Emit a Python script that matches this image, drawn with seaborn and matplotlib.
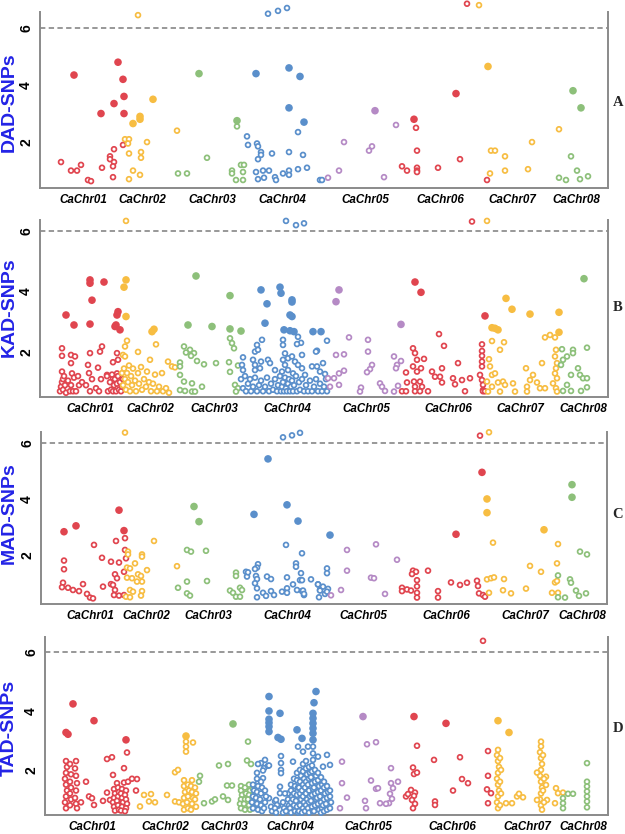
import numpy as np
import pandas as pd
import seaborn as sns
import matplotlib.pyplot as plt

sns.set_theme(style="white")
plt.rcParams['font.family'] = ['Liberation Sans', 'DejaVu Sans']

CHROMS = ["CaChr01", "CaChr02", "CaChr03", "CaChr04",
          "CaChr05", "CaChr06", "CaChr07", "CaChr08"]
CHR_COLORS = ["#E0454F", "#F7BD42", "#8DC07A", "#5A8FCB",
              "#B58AC5", "#E0454F", "#F7BD42", "#8DC07A"]
THRESHOLD = 6

# ---------------- DAD-SNPs (panel A) ----------------
DAD_pos = {
    "CaChr01": [74, 61, 71, 77, 81, 88, 91, 101, 102, 110, 110, 114, 113, 113, 114, 118, 114, 123, 124, 124, 123],
    "CaChr02": [138, 153, 140, 140, 133, 125, 129, 128, 147, 129, 141, 141, 133, 140, 129, 177],
    "CaChr03": [199, 178, 187, 207, 237, 237, 241, 244, 232, 232, 243, 236, 243],
    "CaChr04": [268, 278, 287, 256, 289, 300, 289, 304, 298, 247, 248, 257, 258, 261, 261, 272, 258, 289, 303,
                256, 263, 269, 275, 276, 283, 289, 289, 298, 307, 258, 264, 320, 322],
    "CaChr05": [328, 339, 344, 375, 372, 369, 396, 384],
    "CaChr06": [414, 416, 417, 402, 407, 417, 417, 417, 438, 460, 456, 467, 487],
    "CaChr07": [479, 488, 491, 495, 505, 490, 505, 528, 532, 559],
    "CaChr08": [573, 581, 571, 559, 566, 577, 580, 588],
}
DAD_val = {
    "CaChr01": [4.35, 1.3, 1.0, 1.0, 1.2, 0.67, 0.63, 3.0, 1.1, 1.5, 1.4, 1.3, 1.15, 0.77, 1.75, 4.8, 3.35, 4.2, 3.6, 3.0, 1.9],
    "CaChr02": [6.45, 3.5, 2.9, 2.8, 2.65, 2.1, 2.1, 1.95, 2.0, 1.6, 1.65, 1.45, 1.0, 0.85, 0.7, 2.4],
    "CaChr03": [4.4, 0.9, 0.9, 1.45, 2.75, 2.55, 1.2, 1.2, 1.0, 0.9, 0.95, 0.67, 0.67],
    "CaChr04": [6.5, 6.6, 6.7, 4.4, 4.6, 4.3, 3.2, 2.7, 2.35, 2.2, 1.9, 1.95, 1.85, 1.65, 1.55, 1.6, 1.4, 1.65, 1.55,
                0.95, 1.0, 1.0, 0.77, 0.67, 0.9, 1.0, 0.85, 1.05, 1.1, 0.7, 0.75, 0.67, 0.67],
    "CaChr05": [0.75, 1.0, 2.0, 3.1, 1.85, 1.7, 2.6, 0.77],
    "CaChr06": [2.8, 2.5, 1.7, 1.15, 1.0, 1.1, 1.0, 0.95, 1.1, 1.4, 3.7, 6.85, 0.67],
    "CaChr07": [6.8, 4.65, 1.7, 1.7, 1.5, 0.9, 1.0, 1.05, 2.0, 2.45],
    "CaChr08": [3.8, 3.2, 1.5, 0.75, 0.67, 1.0, 0.7, 0.8],
}
DAD_label_pos = [83, 142, 212, 282, 365, 440, 512, 576]

# ---------------- KAD-SNPs (panel B) ----------------
KAD_pos = {
    "CaChr01": [90, 90, 104, 92, 66, 74, 90, 117, 118, 115, 120, 116,
                62, 62, 71, 75, 71, 62, 72, 90, 100, 102, 113, 117, 118, 88, 98, 107, 117, 113,
                60, 61, 62, 63, 63, 64, 65, 66, 68, 70, 71, 73, 74, 76, 78, 79, 82, 86, 89, 90,
                92, 96, 99, 101, 107, 108, 110, 111, 112, 113, 114, 115, 116, 117, 118, 119, 120, 121, 122, 123],
    "CaChr02": [126, 126, 124, 126, 154, 152, 156, 127, 125, 123, 125, 138, 150, 168, 172, 175,
                122, 123, 124, 125, 126, 127, 128, 129, 130, 131, 132, 133, 135, 136, 138, 139, 141, 142,
                144, 146, 147, 149, 151, 153, 155, 157, 159, 162, 163, 166, 169],
    "CaChr03": [196, 230, 188, 212, 230, 241, 230, 232, 234, 184, 190, 194, 191, 186, 197, 204, 216,
                180, 180, 229, 238, 230, 180, 184, 192, 202, 180, 185, 192, 195, 235, 238, 236],
    "CaChr04": [286, 296, 304, 261, 280, 281, 292, 292, 267, 290, 292, 265,
                284, 290, 294, 313, 321, 262, 283, 283, 298, 301, 297, 327, 257, 255, 258, 317, 316,
                285, 288, 292, 302, 243, 253, 255, 261, 268, 270, 283, 285, 295, 298, 302, 312, 317,
                323, 242, 243, 255, 260, 275, 282, 288, 293, 305, 320, 325,
                241, 243, 245, 246, 248, 250, 251, 253, 255, 257, 259, 261, 263, 265, 267, 269, 271,
                273, 275, 277, 278, 280, 281, 282, 283, 284, 285, 286, 287, 288, 289, 290, 291, 292,
                293, 294, 296, 297, 299, 300, 302, 304, 306, 308, 310, 312, 314, 316, 318, 320, 322,
                324, 326, 327],
    "CaChr05": [339, 336, 401, 368, 349, 336, 344, 368, 372, 370, 367, 344, 339, 339, 334, 361, 360,
                380, 382, 385, 394, 397, 396, 401, 394, 398, 328, 330],
    "CaChr06": [415, 421, 485, 472, 439, 444, 413, 415, 417, 424, 421, 417, 413, 406, 432, 442, 458,
                453, 455, 462, 470, 482, 482, 482, 482, 482, 480, 482, 483, 483, 407, 414, 415, 420,
                422, 440, 442, 435, 402, 406, 415, 420, 428, 465, 483, 485],
    "CaChr07": [487, 506, 512, 530, 559, 492, 495, 498, 492, 504, 500, 545, 550, 555, 559, 489, 490,
                492, 495, 487, 492, 498, 503, 505, 513, 526, 542, 533, 530, 537, 527, 540, 545, 556,
                555, 557, 556, 555, 557, 553, 556, 488, 500, 515, 527, 557],
    "CaChr08": [584, 562, 567, 573, 573, 587, 563, 561, 578, 580, 583, 587, 571, 567, 563, 571, 581, 587],
}
KAD_val = {
    "CaChr01": [4.38, 4.27, 4.31, 3.71, 3.22, 2.89, 2.92, 3.22, 3.33, 2.84, 2.73, 2.89,
                2.12, 1.87, 1.90, 1.85, 1.63, 1.35, 1.29, 1.96, 2.01, 2.18, 1.66, 1.96, 1.74, 1.57, 1.48, 1.24, 1.29, 1.13,
                0.7, 0.85, 1.0, 1.1, 0.75, 1.2, 0.9, 0.65, 1.05, 0.7, 0.9, 0.7, 1.15, 0.7, 1.2, 0.9, 1.0, 0.9, 1.3, 0.7,
                1.1, 0.8, 0.7, 1.1, 1.2, 0.7, 1.0, 0.75, 1.25, 0.7, 0.9, 1.1, 0.7, 0.95, 1.2, 0.75, 1.0, 0.7, 0.85, 1.1],
    "CaChr02": [6.33, 4.38, 4.14, 3.17, 2.75, 2.67, 2.25, 2.37, 2.18, 1.9, 1.85, 2.0, 1.74, 1.68, 1.52, 1.49,
                1.3, 0.9, 1.45, 1.1, 0.75, 1.3, 1.0, 1.55, 0.7, 1.2, 0.9, 1.45, 1.05, 0.7, 1.3, 0.95, 1.5, 0.75,
                1.1, 0.85, 1.35, 1.0, 0.7, 0.95, 1.25, 0.7, 0.85, 1.3, 0.7, 0.8, 0.65],
    "CaChr03": [4.51, 3.86, 2.89, 2.84, 2.76, 2.69, 2.45, 2.29, 2.12, 2.18, 2.07, 1.96, 1.87, 1.98, 1.70, 1.59, 1.63,
                1.65, 1.52, 1.66, 1.55, 1.34, 1.24, 1.02, 0.96, 0.85, 0.74, 0.71, 0.69, 0.69, 0.91, 0.80, 0.69],
    "CaChr04": [6.33, 6.19, 6.25, 4.05, 4.14, 3.94, 3.72, 3.65, 3.59, 3.22, 3.17, 2.95,
                2.73, 2.70, 2.67, 2.67, 2.67, 2.4, 2.40, 2.23, 2.5, 2.3, 2.26, 2.37, 2.23, 2.01, 2.07, 2.04, 2.01,
                1.95, 1.79, 1.85, 1.90, 1.82, 1.74, 1.57, 1.68, 1.74, 1.63, 1.74, 1.57, 1.68, 1.57, 1.46, 1.52, 1.52,
                1.63, 1.57, 1.4, 1.40, 1.46, 1.40, 1.35, 1.40, 1.29, 1.24, 1.35, 1.27,
                1.1, 0.8, 1.2, 0.7, 0.95, 1.1, 0.7, 0.85, 1.15, 0.7, 0.9, 1.05, 0.7, 0.85, 1.15, 0.7, 0.95,
                0.75, 1.1, 0.7, 0.9, 1.2, 0.7, 0.85, 1.0, 0.7, 1.15, 0.8, 0.7, 0.95, 1.1, 0.7, 0.85, 1.05,
                0.7, 0.9, 1.2, 0.7, 1.0, 0.75, 1.1, 0.7, 0.9, 0.7, 1.05, 0.7, 0.85, 1.1, 0.7, 0.95, 0.7,
                0.85, 1.1, 0.7],
    "CaChr05": [4.05, 3.66, 2.91, 2.01, 2.48, 1.90, 1.92, 2.4, 1.57, 1.43, 1.33, 1.38, 1.29, 0.91, 1.13, 0.82, 0.69,
                0.96, 0.85, 0.71, 1.85, 1.57, 1.46, 1.70, 0.69, 0.88, 1.13, 0.85],
    "CaChr06": [4.31, 3.97, 3.19, 6.31, 2.59, 2.2, 2.12, 1.96, 1.74, 1.77, 1.46, 1.35, 1.52, 1.32, 1.35, 1.46, 1.63,
                1.13, 0.93, 1.07, 1.13, 2.25, 2.03, 1.87, 1.68, 1.52, 1.24, 1.07, 0.91, 0.74, 0.99, 1.02, 0.85, 1.02,
                0.85, 1.18, 0.99, 1.18, 0.7, 0.7, 0.7, 0.7, 0.7, 0.7, 0.7, 0.7],
    "CaChr07": [6.33, 3.77, 3.41, 3.25, 3.31, 2.8, 2.78, 2.73, 2.36, 2.32, 2.07, 2.48, 2.56, 2.48, 2.65, 1.76, 1.52,
                1.24, 1.29, 1.02, 0.85, 0.99, 1.02, 0.91, 0.96, 1.46, 1.63, 1.24, 1.07, 0.99, 0.85, 0.80, 0.80, 2.07,
                1.85, 1.63, 1.46, 1.29, 1.13, 0.96, 0.80, 0.69, 0.69, 0.69, 0.69, 0.69],
    "CaChr08": [4.42, 2.09, 1.85, 2.07, 1.96, 2.14, 1.74, 1.57, 1.46, 1.24, 1.13, 1.13, 1.24, 0.91, 0.71, 0.71, 0.71, 0.83],
}
KAD_label_pos = [90, 150, 214, 287, 366, 448, 520, 583]

# ---------------- MAD-SNPs (panel C) ----------------
MAD_pos = {
    "CaChr01": [64, 76, 119, 124, 94, 116, 125, 102, 111, 119, 64, 64, 125, 126, 124, 115, 117, 111, 113, 83, 103,
                63, 62, 68, 73, 79, 87, 90, 93, 115, 114, 119, 124],
    "CaChr02": [125, 128, 128, 142, 142, 154, 135, 147, 127, 130, 138, 141, 127, 132, 142, 137, 130, 133, 142,
                126, 130, 141, 177],
    "CaChr03": [194, 199, 187, 191, 206, 187, 178, 187, 190, 207, 236, 236, 230, 233, 240, 242, 236, 240],
    "CaChr04": [283, 292, 300, 268, 287, 254, 298, 286, 302, 296, 296, 258, 257, 255, 246, 247, 248, 256, 257, 267,
                271, 287, 300, 302, 301, 311, 293, 255, 257, 263, 266, 271, 274, 282, 287, 287, 297, 302, 304, 257,
                318, 320, 330, 327, 327, 318, 323, 328, 320, 325, 327, 319, 303, 304],
    "CaChr05": [347, 376, 397, 347, 371, 374, 341, 331, 385],
    "CaChr06": [456, 480, 482, 428, 413, 416, 412, 417, 417, 417, 417, 402, 402, 407, 411, 438, 438, 451, 460, 467,
                477, 478, 479, 483, 485],
    "CaChr07": [489, 487, 487, 493, 544, 558, 530, 541, 487, 491, 494, 504, 489, 503, 511, 526, 557, 555, 557, 552, 558],
    "CaChr08": [572, 572, 580, 587, 558, 570, 571, 576, 579, 586, 558, 565],
}
MAD_val = {
    "CaChr01": [2.83, 3.04, 3.6, 2.87, 2.36, 2.5, 2.6, 1.9, 1.76, 1.73, 1.8, 1.49, 2.18, 1.88, 1.4, 1.31, 1.17, 0.96,
                0.93, 0.96, 0.87, 1.01, 0.85, 0.83, 0.75, 0.71, 0.61, 0.48, 0.45, 0.75, 0.57, 0.55, 0.57],
    "CaChr02": [6.37, 2.12, 2.02, 2.02, 1.94, 2.5, 1.7, 1.46, 1.55, 1.52, 1.31, 1.25, 1.19, 1.17, 1.05, 1.05, 0.75,
                0.69, 0.71, 0.51, 0.49, 0.55, 1.6],
    "CaChr03": [3.73, 3.19, 2.18, 2.12, 2.15, 1.05, 0.83, 0.63, 0.55, 1.07, 1.37, 1.25, 0.73, 0.65, 0.83, 0.75, 0.51, 0.51],
    "CaChr04": [6.2, 6.27, 6.36, 5.43, 3.79, 3.45, 3.21, 2.36, 2.06, 1.7, 1.58, 1.67, 1.55, 1.5, 1.4, 1.23, 1.38, 1.25,
                1.14, 1.23, 1.14, 1.2, 1.1, 1.1, 1.35, 1.13, 0.95, 0.99, 0.81, 0.65, 0.54, 0.71, 0.57, 0.69, 0.81,
                0.65, 0.75, 0.71, 0.57, 0.49, 0.95, 0.75, 2.71, 1.52, 1.35, 0.95, 0.87, 0.79, 0.73, 0.61, 0.69, 0.49,
                0.73, 0.61],
    "CaChr05": [2.18, 2.38, 1.83, 1.44, 1.19, 1.17, 0.75, 0.56, 0.61],
    "CaChr06": [2.74, 6.26, 4.95, 1.44, 1.44, 1.4, 1.32, 1.1, 0.88, 0.65, 0.48, 0.83, 0.71, 0.77, 0.73, 0.71, 0.48,
                1.02, 0.93, 1.01, 1.08, 0.89, 0.63, 0.57, 0.51],
    "CaChr07": [6.38, 4.0, 3.51, 2.44, 2.9, 2.39, 1.61, 1.4, 1.13, 1.17, 1.2, 1.14, 0.65, 0.74, 0.63, 0.8, 1.7, 1.02,
                1.07, 0.65, 0.65],
    "CaChr08": [4.51, 4.06, 2.12, 2.02, 1.27, 1.13, 1.01, 0.73, 0.54, 0.63, 0.49, 0.48],
}
MAD_label_pos = [90, 146, 208, 287, 363, 446, 525, 582]

# ---------------- TAD-SNPs (panel D) ----------------
TAD_pos = {
    "CaChr01": [73, 94, 66, 68, 126, 127, 107, 112, 124,
                66, 67, 66, 65, 66, 67, 66, 65, 66,
                70, 71, 70, 71, 70, 71, 70,
                76, 75, 76, 77, 76, 75, 76, 77,
                86, 89, 92, 94, 103, 107, 81, 113, 117, 124, 128, 137, 136, 132, 110, 115,
                114, 115, 114, 113, 114, 115, 118, 119, 118, 117, 118, 119,
                122, 121, 122, 123, 122, 121, 126, 125, 126, 127, 126, 125],
    "CaChr02": [140, 144, 151, 149, 155, 167, 175, 179, 186, 186, 186, 186, 193, 175, 178,
                184, 184, 185, 184, 183, 184, 188, 189, 188, 187, 188,
                192, 191, 192, 193, 192, 191, 195, 196, 195, 196],
    "CaChr03": [200, 199, 204, 212, 215, 219, 228, 227, 232, 223, 228, 233, 248, 247, 251,
                241, 241, 242, 241, 240, 241, 245, 246, 245, 244, 245,
                249, 250, 249, 248, 249, 250, 253, 253, 254, 253],
    "CaChr04": [269, 316, 314, 269, 269, 269, 269, 269, 280, 278, 313, 313, 313, 313, 313, 313, 313, 313, 313,
                297, 281, 302, 298, 303, 308, 318, 327, 261, 264, 268, 265, 281, 281, 281, 281, 293, 323, 330,
                263, 258, 280, 280, 269, 275, 278, 293, 258, 263, 269, 276, 277,
                288, 288, 289, 288,
                291, 291, 292, 291, 290, 291,
                294, 295, 294, 293, 294, 295,
                297, 297, 298, 297, 296, 297, 298,
                300, 301, 300, 299, 300, 301, 300, 299,
                303, 303, 304, 303, 302, 303, 304, 303, 302,
                306, 306, 307, 306, 305, 306, 307, 306, 305,
                309, 310, 309, 308, 309, 310, 309, 308, 309,
                312, 312, 311, 312, 313, 312, 311, 312, 313,
                315, 316, 315, 314, 315, 316, 315, 314,
                318, 318, 319, 318, 317, 318, 319,
                321, 322, 321, 320, 321, 322, 321,
                324, 324, 325, 324, 323, 324,
                327, 328, 327, 326, 327,
                330, 330, 331, 330,
                253, 254, 253, 252, 253,
                257, 257, 258, 257, 256, 257, 258,
                261, 262, 261, 260, 261, 262,
                265, 266, 265, 264,
                271, 272, 275, 276, 283, 284, 283, 285, 286],
    "CaChr05": [363, 367, 376, 342, 391, 371, 376, 378, 391, 393, 390, 392, 389, 398, 342, 347, 365, 366, 380, 386, 340],
    "CaChr06": [483, 414, 446, 417, 434, 460, 413, 414, 417, 462, 468, 453, 411, 415, 414, 406, 408, 412, 415, 413,
                435, 435, 488, 488, 487, 491, 488],
    "CaChr07": [498, 509,
                498, 497, 498, 499, 498, 497, 498, 499, 498, 497, 498,
                500, 501, 500, 501, 500,
                506, 512, 517, 519, 523,
                541, 541, 540, 541, 542, 541, 540, 541, 542, 541, 540, 541, 542,
                537, 546, 546, 547, 537, 556, 558, 563, 555,
                543, 544, 543, 544],
    "CaChr08": [563, 563, 563, 568, 573, 587, 587, 587, 587, 587, 587, 587],
}
TAD_val = {
    "CaChr01": [4.24, 3.67, 3.27, 3.21, 3.02, 2.59, 2.37, 2.43, 2.06,
                2.3, 2.1, 1.9, 1.7, 1.5, 1.3, 1.1, 0.9, 0.7,
                2.2, 1.85, 1.6, 1.4, 1.2, 1.0, 0.8,
                2.3, 2.05, 1.8, 1.55, 1.3, 1.05, 0.85, 0.7,
                1.6, 1.1, 1.04, 0.81, 0.95, 1.23, 0.9, 1.83, 1.55, 1.57, 1.6, 1.69, 1.3, 1.7, 0.98, 1.04,
                1.35, 1.2, 1.05, 0.9, 0.75, 0.62, 1.4, 1.25, 1.1, 0.95, 0.8, 0.65,
                1.35, 1.2, 1.05, 0.9, 0.75, 0.62, 1.3, 1.15, 1.0, 0.85, 0.7, 0.6],
    "CaChr02": [0.76, 1.15, 1.18, 0.93, 0.9, 1.15, 0.93, 0.9, 3.15, 2.96, 2.79, 2.62, 2.93, 1.92, 2.0,
                1.65, 1.45, 1.25, 1.05, 0.85, 0.65, 1.5, 1.3, 1.1, 0.9, 0.7,
                1.65, 1.45, 1.25, 1.05, 0.85, 0.65, 1.4, 1.2, 1.0, 0.75],
    "CaChr03": [1.8, 1.6, 0.87, 0.93, 1.0, 2.15, 2.2, 1.47, 1.47, 1.1, 0.98, 3.56, 2.96, 2.32, 2.2,
                1.45, 1.3, 1.15, 1.0, 0.85, 0.7, 1.4, 1.2, 1.0, 0.85, 0.65,
                1.5, 1.3, 1.15, 1.0, 0.8, 0.65, 1.35, 1.1, 0.9, 0.7],
    "CaChr04": [4.49, 4.66, 4.28, 4.0, 3.72, 3.6, 3.47, 3.3, 3.92, 3.1, 3.92, 3.75, 3.58, 3.41, 3.24, 3.02, 2.79,
                2.56, 2.34, 3.36, 3.04, 3.07, 2.79, 2.62, 2.79, 2.45, 2.51, 2.23, 2.06, 2.14, 2.34, 2.47, 2.23, 2.0,
                1.89, 2.28, 2.11, 2.17, 1.72, 1.55, 1.43, 1.21, 1.04, 0.93, 0.78, 1.32, 2.2, 1.98, 2.15, 0.98, 0.81,
                1.2, 1.0, 0.8, 0.6,
                1.5, 1.3, 1.1, 0.9, 0.7, 0.55,
                1.7, 1.45, 1.2, 1.0, 0.8, 0.6,
                1.9, 1.65, 1.4, 1.15, 0.95, 0.75, 0.55,
                2.0, 1.8, 1.6, 1.4, 1.2, 1.0, 0.8, 0.6,
                2.2, 1.95, 1.7, 1.5, 1.3, 1.1, 0.9, 0.7, 0.55,
                2.3, 2.05, 1.85, 1.6, 1.4, 1.2, 1.0, 0.8, 0.6,
                2.1, 1.9, 1.7, 1.5, 1.3, 1.1, 0.9, 0.7, 0.55,
                2.15, 1.95, 1.75, 1.55, 1.35, 1.15, 0.95, 0.75, 0.6,
                2.0, 1.8, 1.6, 1.4, 1.2, 1.0, 0.8, 0.6,
                1.9, 1.65, 1.45, 1.25, 1.05, 0.85, 0.65,
                1.75, 1.5, 1.3, 1.1, 0.9, 0.7, 0.55,
                1.6, 1.4, 1.2, 1.0, 0.8, 0.6,
                1.45, 1.25, 1.05, 0.85, 0.65,
                1.3, 1.1, 0.9, 0.7,
                1.5, 1.3, 1.1, 0.9, 0.7,
                1.9, 1.7, 1.45, 1.25, 1.05, 0.85, 0.65,
                1.6, 1.4, 1.2, 1.0, 0.8, 0.6,
                1.3, 1.1, 0.9, 0.7,
                0.75, 0.6, 0.7, 0.55, 0.9, 0.7, 0.55, 1.2, 0.6],
    "CaChr05": [3.81, 2.87, 2.94, 2.28, 2.06, 1.64, 1.36, 1.38, 1.55, 1.38, 1.19, 1.02, 0.87, 1.6, 1.55, 1.06, 0.95,
                0.7, 0.87, 0.85, 0.7],
    "CaChr06": [6.38, 3.81, 3.58, 2.82, 2.34, 2.43, 2.08, 1.86, 1.91, 1.69, 1.55, 1.3, 1.32, 1.23, 1.12, 1.1, 1.18,
                0.98, 0.85, 0.7, 0.93, 0.81, 2.64, 1.8, 1.34, 1.21, 0.87],
    "CaChr07": [3.67, 3.27,
                2.68, 2.5, 2.3, 2.1, 1.9, 1.7, 1.5, 1.3, 1.1, 0.9, 0.7,
                2.4, 2.0, 1.6, 1.2, 0.8,
                0.87, 0.87, 1.1, 1.19, 1.07,
                2.96, 2.8, 2.6, 2.4, 2.2, 2.0, 1.8, 1.6, 1.4, 1.2, 1.0, 0.8, 0.65,
                1.91, 1.77, 1.49, 0.98, 0.98, 1.38, 1.21, 1.23, 0.87,
                2.5, 1.7, 1.3, 0.9],
    "CaChr08": [1.04, 0.87, 0.7, 1.19, 1.19, 2.23, 1.6, 1.44, 1.27, 1.1, 0.93, 0.73],
}
TAD_label_pos = [92, 165, 224, 290, 368, 452, 527, 583]

# ---------------- layout (pixels of a 625x834 canvas) ----------------
W, H = 625, 834
PANELS = [
    # name, pos, val, labels, (left, top, right, bottom) px, ylim, ylabel centre y, letter, fill cut
    ("DAD-SNPs", DAD_pos, DAD_val, DAD_label_pos, (40, 12, 608, 188), (0.39, 6.56), 102, "A", 2.62),
    ("KAD-SNPs", KAD_pos, KAD_val, KAD_label_pos, (40, 220, 608, 397), (0.51, 6.36), 307, "B", 2.62),
    ("MAD-SNPs", MAD_pos, MAD_val, MAD_label_pos, (41, 432, 607, 604), (0.25, 6.39), 513, "C", 2.62),
    ("TAD-SNPs", TAD_pos, TAD_val, TAD_label_pos, (45, 637, 608, 815), (0.47, 6.51), 728, "D", 3.0),
]

palette = dict(zip(CHROMS, CHR_COLORS))
fig = plt.figure(figsize=(W / 100, H / 100), dpi=100)
fig.patch.set_facecolor("white")


def make_df(pos, val):
    rows = []
    for c in CHROMS:
        for p, v in zip(pos[c], val[c]):
            rows.append((c, p, v))
    return pd.DataFrame(rows, columns=["chrom", "pos", "logp"])


for name, pos, val, lab_pos, (l, t, r, b), ylim, ylab_y, letter, cut in PANELS:
    ax = fig.add_axes([l / W, 1 - b / H, (r - l) / W, (b - t) / H])
    ax.set_facecolor("white")
    df = make_df(pos, val)
    filled = (df["logp"] >= cut) & (df["logp"] < THRESHOLD)

    ax.axhline(THRESHOLD, color="#7c7c7c", lw=1.1, ls=(0, (3.5, 2.2)), zorder=1)

    # hollow rings
    sns.scatterplot(data=df[~filled], x="pos", y="logp", hue="chrom", palette=palette,
                    s=12, linewidth=1.25, legend=False, ax=ax, zorder=3)
    coll = ax.collections[-1]
    cols = coll.get_facecolors()
    coll.set_edgecolors(cols)
    coll.set_facecolors("white")
    coll.set_clip_on(False)

    # filled dots
    sns.scatterplot(data=df[filled], x="pos", y="logp", hue="chrom", palette=palette,
                    s=30, linewidth=0, legend=False, ax=ax, zorder=4)
    ax.collections[-1].set_clip_on(False)

    ax.set_xlim(l, r)
    ax.set_ylim(*ylim)
    ax.set_xlabel("")
    ax.set_ylabel("")

    ax.set_yticks([2, 4, 6])
    ax.set_yticklabels(["2", "4", "6"], fontweight="bold", fontsize=10)
    for lbl in ax.get_yticklabels():
        lbl.set_rotation(90)
        lbl.set_va("center")
    ax.set_xticks(lab_pos)
    ax.set_xticklabels(CHROMS, fontstyle="italic", fontweight="bold", fontsize=8.4)
    ax.tick_params(axis="y", length=0, pad=5, colors="black")
    ax.tick_params(axis="x", length=0, pad=4.5, colors="black")

    ax.spines["top"].set_visible(False)
    for s in ("left", "right", "bottom"):
        ax.spines[s].set_color("#8a8a8a")
        ax.spines[s].set_linewidth(1.4)

    fig.text(9 / W, 1 - ylab_y / H, name, rotation=90, ha="center", va="center",
             color="#2323E6", fontsize=14, fontweight="bold")
    fig.text(618 / W, 1 - (ylab_y + 1) / H, letter, ha="center", va="center",
             family=["Liberation Serif", "DejaVu Serif"], fontweight="bold", fontsize=10.5)

fig.savefig("out.png", dpi=100, facecolor="white")
